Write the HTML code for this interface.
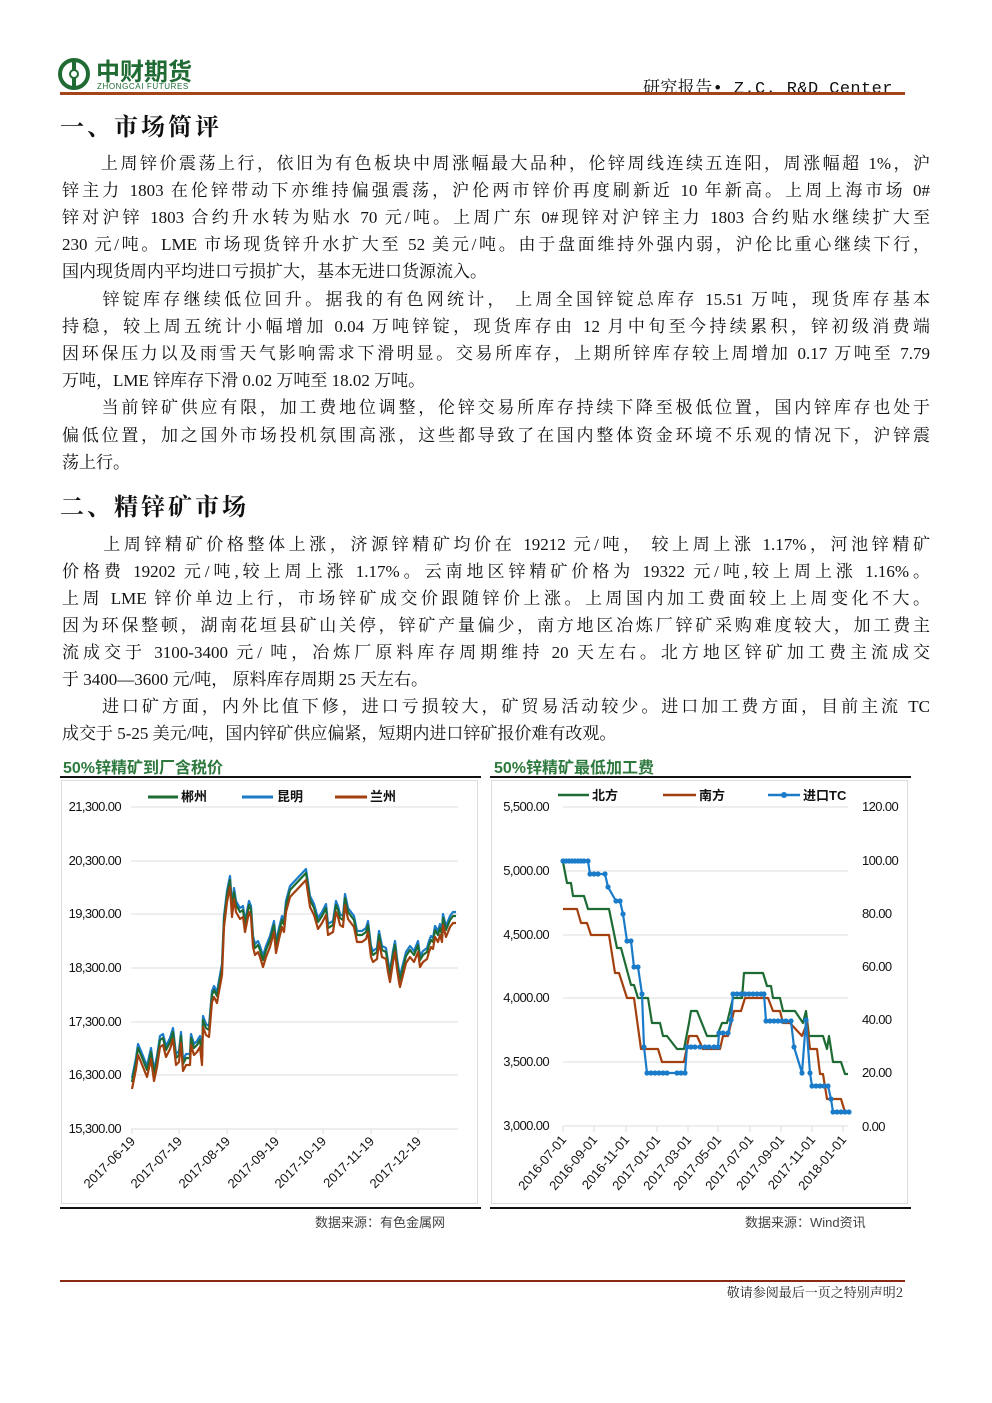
<!DOCTYPE html>
<html><head><meta charset="utf-8"><style>
body{margin:0;background:#fff;}
#p{position:relative;width:992px;height:1403px;font-family:"Liberation Serif","Noto Serif CJK SC",serif;color:#111;}
.a{position:absolute;white-space:nowrap;}
.l{position:absolute;left:62px;width:868px;font-size:17px;line-height:20px;text-align:justify;text-align-last:justify;white-space:nowrap;}
.l.e{text-align-last:left;}
.h{position:absolute;left:60px;font-size:24px;font-weight:bold;font-family:"Noto Serif CJK SC",serif;letter-spacing:3px;}
svg text{font-family:"Liberation Sans","Noto Sans CJK SC",sans-serif;}
</style></head><body><div id="p">
<svg class="a" style="left:58px;top:58px" width="36" height="34"><circle cx="16" cy="16" r="14" fill="none" stroke="#1f6b33" stroke-width="4"/><rect x="14" y="4" width="4" height="24" fill="#1f6b33"/><circle cx="16" cy="16" r="4" fill="#fff" stroke="#1f6b33" stroke-width="2"/></svg>
<div class="a" style="left:96px;top:56px;font-size:24px;font-weight:bold;color:#1f6b33;font-family:'Noto Sans CJK SC',sans-serif;line-height:28px">中财期货</div>
<div class="a" style="left:97px;top:82px;font-size:8px;color:#1f6b33;font-family:'Liberation Sans',sans-serif;letter-spacing:0.6px">ZHONGCAI FUTURES</div>
<div class="a" style="left:643px;top:73px;font-size:17px;letter-spacing:0.4px;font-family:'Liberation Mono','Noto Serif CJK SC',monospace">研究报告• Z.C.  R&amp;D Center</div>
<div class="a" style="left:60px;top:92px;width:845px;height:3px;background:#a4441a"></div>
<div class="h" style="top:107px">一、市场简评</div>
<div class="l" style="top:154px">　　上周锌价震荡上行，依旧为有色板块中周涨幅最大品种，伦锌周线连续五连阳，周涨幅超 1%，沪</div>
<div class="l" style="top:181px">锌主力 1803 在伦锌带动下亦维持偏强震荡，沪伦两市锌价再度刷新近 10 年新高。上周上海市场 0#</div>
<div class="l" style="top:208px">锌对沪锌 1803 合约升水转为贴水 70 元/吨。上周广东 0#现锌对沪锌主力 1803 合约贴水继续扩大至</div>
<div class="l" style="top:235px">230 元/吨。LME 市场现货锌升水扩大至 52 美元/吨。由于盘面维持外强内弱，沪伦比重心继续下行，</div>
<div class="l e" style="top:262px">国内现货周内平均进口亏损扩大，基本无进口货源流入。</div>
<div class="l" style="top:290px">　　锌锭库存继续低位回升。据我的有色网统计， 上周全国锌锭总库存 15.51 万吨，现货库存基本</div>
<div class="l" style="top:317px">持稳，较上周五统计小幅增加 0.04 万吨锌锭，现货库存由 12 月中旬至今持续累积，锌初级消费端</div>
<div class="l" style="top:344px">因环保压力以及雨雪天气影响需求下滑明显。交易所库存，上期所锌库存较上周增加 0.17 万吨至 7.79</div>
<div class="l e" style="top:371px">万吨，LME 锌库存下滑 0.02 万吨至 18.02 万吨。</div>
<div class="l" style="top:398px">　　当前锌矿供应有限，加工费地位调整，伦锌交易所库存持续下降至极低位置，国内锌库存也处于</div>
<div class="l" style="top:426px">偏低位置，加之国外市场投机氛围高涨，这些都导致了在国内整体资金环境不乐观的情况下，沪锌震</div>
<div class="l e" style="top:453px">荡上行。</div>
<div class="h" style="top:487px">二、精锌矿市场</div>
<div class="l" style="top:535px">　　上周锌精矿价格整体上涨，济源锌精矿均价在 19212 元/吨， 较上周上涨 1.17%，河池锌精矿</div>
<div class="l" style="top:562px">价格费 19202 元/吨,较上周上涨 1.17%。云南地区锌精矿价格为 19322 元/吨,较上周上涨 1.16%。</div>
<div class="l" style="top:589px">上周 LME 锌价单边上行，市场锌矿成交价跟随锌价上涨。上周国内加工费面较上上周变化不大。</div>
<div class="l" style="top:616px">因为环保整顿，湖南花垣县矿山关停，锌矿产量偏少，南方地区冶炼厂锌矿采购难度较大，加工费主</div>
<div class="l" style="top:643px">流成交于 3100-3400 元/ 吨，冶炼厂原料库存周期维持 20 天左右。北方地区锌矿加工费主流成交</div>
<div class="l e" style="top:670px">于 3400—3600 元/吨， 原料库存周期 25 天左右。</div>
<div class="l" style="top:697px">　　进口矿方面，内外比值下修，进口亏损较大，矿贸易活动较少。进口加工费方面，目前主流 TC</div>
<div class="l e" style="top:724px">成交于 5-25 美元/吨，国内锌矿供应偏紧，短期内进口锌矿报价难有改观。</div>

<svg class="a" style="left:0;top:0" width="992" height="1403">
<g font-size="16" fill="#2e7a3e" font-weight="bold"><text x="63" y="773">50%锌精矿到厂含税价</text><text x="494" y="773">50%锌精矿最低加工费</text></g>
<rect x="60" y="776" width="421" height="2" fill="#111"/><rect x="490" y="776" width="421" height="2" fill="#111"/>
<rect x="61.5" y="780.5" width="416" height="423" fill="none" stroke="#ddd"/><rect x="491.5" y="780.5" width="416" height="423" fill="none" stroke="#ddd"/>
<rect x="60" y="1207" width="421" height="2" fill="#111"/><rect x="490" y="1207" width="421" height="2" fill="#111"/>
<g font-size="13" fill="#444" font-family="Liberation Serif,Noto Serif CJK SC,serif"><text x="315" y="1227">数据来源：有色金属网</text><text x="745" y="1227">数据来源：Wind资讯</text></g>
<g stroke="#ddd" stroke-width="1"><line x1="131" x2="458" y1="807" y2="807"/><line x1="131" x2="458" y1="861" y2="861"/><line x1="131" x2="458" y1="914" y2="914"/><line x1="131" x2="458" y1="968" y2="968"/><line x1="131" x2="458" y1="1022" y2="1022"/><line x1="131" x2="458" y1="1075" y2="1075"/><line x1="131" x2="458" y1="1129" y2="1129"/>
<path d="M132 1129v5M179 1129v5M227 1129v5M276 1129v5M323 1129v5M371 1129v5M418 1129v5"/></g>
<g font-size="13" fill="#111" text-anchor="end" letter-spacing="-0.6"><text x="121" y="811">21,300.00</text><text x="121" y="865">20,300.00</text><text x="121" y="918">19,300.00</text><text x="121" y="972">18,300.00</text><text x="121" y="1026">17,300.00</text><text x="121" y="1079">16,300.00</text><text x="121" y="1133">15,300.00</text></g>
<g font-size="13" fill="#111" text-anchor="end"><text transform="translate(136,1142) rotate(-45)">2017-06-19</text><text transform="translate(183,1142) rotate(-45)">2017-07-19</text><text transform="translate(231,1142) rotate(-45)">2017-08-19</text><text transform="translate(280,1142) rotate(-45)">2017-09-19</text><text transform="translate(327,1142) rotate(-45)">2017-10-19</text><text transform="translate(375,1142) rotate(-45)">2017-11-19</text><text transform="translate(422,1142) rotate(-45)">2017-12-19</text></g>
<g font-size="13" font-weight="bold" fill="#111"><line x1="148" x2="178" y1="797" y2="797" stroke="#1e6b34" stroke-width="3"/><text x="181" y="801">郴州</text><line x1="242" x2="273" y1="797" y2="797" stroke="#1a7bc9" stroke-width="3"/><text x="277" y="801">昆明</text><line x1="335" x2="367" y1="797" y2="797" stroke="#a3400f" stroke-width="3"/><text x="370" y="801">兰州</text></g>
<g fill="none" stroke-width="2.2" stroke-linejoin="round">
<polyline transform="translate(0,-4)" stroke="#1a7bc9" points="132,1082 136,1062 138,1048 141,1055 145,1065 147,1070 151,1052 154,1074 157,1060 160,1040 163,1038 166,1050 170,1042 173,1032 176,1058 179,1055 181,1036 183,1064 186,1058 190,1058 191,1038 194,1048 197,1045 200,1040 202,1058 203,1020 206,1028 209,1030 212,995 214,990 217,996 218,990 222,968 224,920 227,895 230,880 232,910 234,892 236,905 240,912 243,910 245,925 249,905 251,910 253,940 255,948 258,945 260,950 263,960 266,950 270,940 274,925 276,946 279,932 282,920 284,925 286,905 290,890 306,873 310,900 314,908 318,922 322,916 326,908 328,928 333,925 336,905 338,910 340,918 343,920 345,898 348,912 354,920 356,930 357,935 362,935 366,932 368,925 371,950 373,955 377,952 379,935 382,950 386,952 388,965 390,975 393,955 395,945 397,962 399,975 400,980 403,968 406,956 410,950 414,955 418,945 420,960 423,955 427,952 429,945 431,940 433,942 435,930 438,935 440,928 442,935 443,918 446,930 448,925 450,920 453,916 456,916"/>
<polyline stroke="#1e6b34" points="132,1082 136,1062 138,1048 141,1055 145,1065 147,1070 151,1052 154,1074 157,1060 160,1040 163,1038 166,1050 170,1042 173,1032 176,1058 179,1055 181,1036 183,1064 186,1058 190,1058 191,1038 194,1048 197,1045 200,1040 202,1058 203,1020 206,1028 209,1030 212,995 214,990 217,996 218,990 222,968 224,920 227,895 230,880 232,910 234,892 236,905 240,912 243,910 245,925 249,905 251,910 253,940 255,948 258,945 260,950 263,960 266,950 270,940 274,925 276,946 279,932 282,920 284,925 286,905 290,890 306,873 310,900 314,908 318,922 322,916 326,908 328,928 333,925 336,905 338,910 340,918 343,920 345,898 348,912 354,920 356,930 357,935 362,935 366,932 368,925 371,950 373,955 377,952 379,935 382,950 386,952 388,965 390,975 393,955 395,945 397,962 399,975 400,980 403,968 406,956 410,950 414,955 418,945 420,960 423,955 427,952 429,945 431,940 433,942 435,930 438,935 440,928 442,935 443,918 446,930 448,925 450,920 453,916 456,916"/>
<polyline transform="translate(0,7)" stroke="#a3400f" points="132,1082 136,1062 138,1048 141,1055 145,1065 147,1070 151,1052 154,1074 157,1060 160,1040 163,1038 166,1050 170,1042 173,1032 176,1058 179,1055 181,1036 183,1064 186,1058 190,1058 191,1038 194,1048 197,1045 200,1040 202,1058 203,1020 206,1028 209,1030 212,995 214,990 217,996 218,990 222,968 224,920 227,895 230,880 232,910 234,892 236,905 240,912 243,910 245,925 249,905 251,910 253,940 255,948 258,945 260,950 263,960 266,950 270,940 274,925 276,946 279,932 282,920 284,925 286,905 290,890 306,873 310,900 314,908 318,922 322,916 326,908 328,928 333,925 336,905 338,910 340,918 343,920 345,898 348,912 354,920 356,930 357,935 362,935 366,932 368,925 371,950 373,955 377,952 379,935 382,950 386,952 388,965 390,975 393,955 395,945 397,962 399,975 400,980 403,968 406,956 410,950 414,955 418,945 420,960 423,955 427,952 429,945 431,940 433,942 435,930 438,935 440,928 442,935 443,918 446,930 448,925 450,920 453,916 456,916"/>
</g>
<g stroke="#ddd"><line x1="563" x2="848" y1="807" y2="807"/><line x1="563" x2="848" y1="871" y2="871"/><line x1="563" x2="848" y1="935" y2="935"/><line x1="563" x2="848" y1="998" y2="998"/><line x1="563" x2="848" y1="1062" y2="1062"/><line x1="563" x2="848" y1="1126" y2="1126"/>
<path d="M563 1126v6M594 1126v6M626 1126v6M657 1126v6M688 1126v6M718 1126v6M750 1126v6M781 1126v6M812 1126v6M843 1126v6"/></g>
<g font-size="13" fill="#111" text-anchor="end" letter-spacing="-0.6"><text x="549" y="811">5,500.00</text><text x="549" y="875">5,000.00</text><text x="549" y="939">4,500.00</text><text x="549" y="1002">4,000.00</text><text x="549" y="1066">3,500.00</text><text x="549" y="1130">3,000.00</text></g>
<g font-size="13" fill="#111" letter-spacing="-0.6"><text x="862" y="811">120.00</text><text x="862" y="865">100.00</text><text x="862" y="918">80.00</text><text x="862" y="971">60.00</text><text x="862" y="1024">40.00</text><text x="862" y="1077">20.00</text><text x="862" y="1131">0.00</text></g>
<g font-size="13" fill="#111" text-anchor="end"><text transform="translate(567,1140) rotate(-50)">2016-07-01</text><text transform="translate(598,1140) rotate(-50)">2016-09-01</text><text transform="translate(630,1140) rotate(-50)">2016-11-01</text><text transform="translate(661,1140) rotate(-50)">2017-01-01</text><text transform="translate(692,1140) rotate(-50)">2017-03-01</text><text transform="translate(722,1140) rotate(-50)">2017-05-01</text><text transform="translate(754,1140) rotate(-50)">2017-07-01</text><text transform="translate(785,1140) rotate(-50)">2017-09-01</text><text transform="translate(816,1140) rotate(-50)">2017-11-01</text><text transform="translate(847,1140) rotate(-50)">2018-01-01</text></g>
<g font-size="13" font-weight="bold" fill="#111"><line x1="558" x2="589" y1="795" y2="795" stroke="#1e6b34" stroke-width="2.5"/><text x="592" y="800">北方</text><line x1="663" x2="696" y1="795" y2="795" stroke="#a3400f" stroke-width="2.5"/><text x="699" y="800">南方</text><line x1="768" x2="800" y1="795" y2="795" stroke="#1a7bc9" stroke-width="2.5"/><circle cx="784" cy="795" r="3" fill="#1a7bc9"/><text x="803" y="800">进口TC</text></g>
<g fill="none" stroke-width="2.2" stroke-linejoin="round">
<polyline stroke="#1e6b34" points="563,862 567,883 571,883 573,896 584,896 588,909 609,909 617,948 621,948 631,985 634,985 638,998 648,998 652,1023 660,1023 663,1036 667,1036 677,1049 684,1049 689,1023 691,1011 697,1011 707,1036 717,1036 722,1023 727,1023 733,998 742,998 744,973 763,973 767,986 771,986 773,998 780,998 783,1011 795,1011 803,1023 806,1011 809,1036 823,1036 827,1049 829,1036 833,1062 841,1062 845,1074 848,1074"/>
<polyline stroke="#a3400f" points="563,909 577,909 581,923 587,923 591,935 609,935 615,973 619,973 627,998 634,998 641,1049 658,1049 662,1062 684,1062 689,1036 697,1036 703,1049 720,1049 723,1036 728,1036 734,1011 741,1011 745,998 768,998 773,1011 780,1011 783,1023 790,1023 802,1036 807,1023 810,1049 817,1049 820,1074 823,1074 827,1099 841,1099 845,1112"/>
<polyline stroke="#1a7bc9" points="563,861 588,861 590,874 605,874 608,887 616,901 620,901 623,914 627,941 631,941 634,967 638,967 642,994 644,1047 647,1073 685,1073 687,1047 718,1047 719,1033 728,1033 731,1020 733,994 764,994 766,1021 791,1021 794,1047 802,1073 806,1020 810,1073 812,1086 828,1086 831,1099 833,1112 849,1112"/>
</g>
<g fill="#1a7bc9">
<circle cx="563" cy="861" r="2.6"/><circle cx="566" cy="861" r="2.6"/><circle cx="569" cy="861" r="2.6"/><circle cx="572" cy="861" r="2.6"/><circle cx="575" cy="861" r="2.6"/><circle cx="578" cy="861" r="2.6"/><circle cx="581" cy="861" r="2.6"/><circle cx="584" cy="861" r="2.6"/><circle cx="588" cy="861" r="2.6"/><circle cx="590" cy="874" r="2.6"/><circle cx="594" cy="874" r="2.6"/><circle cx="598" cy="874" r="2.6"/><circle cx="605" cy="874" r="2.6"/><circle cx="608" cy="887" r="2.6"/><circle cx="616" cy="901" r="2.6"/><circle cx="620" cy="901" r="2.6"/><circle cx="623" cy="914" r="2.6"/><circle cx="627" cy="941" r="2.6"/><circle cx="631" cy="941" r="2.6"/><circle cx="634" cy="967" r="2.6"/><circle cx="638" cy="967" r="2.6"/><circle cx="642" cy="994" r="2.6"/><circle cx="644" cy="1047" r="2.6"/><circle cx="647" cy="1073" r="2.6"/><circle cx="651" cy="1073" r="2.6"/><circle cx="655" cy="1073" r="2.6"/><circle cx="659" cy="1073" r="2.6"/><circle cx="663" cy="1073" r="2.6"/><circle cx="667" cy="1073" r="2.6"/><circle cx="677" cy="1073" r="2.6"/><circle cx="681" cy="1073" r="2.6"/><circle cx="685" cy="1073" r="2.6"/><circle cx="687" cy="1047" r="2.6"/><circle cx="691" cy="1047" r="2.6"/><circle cx="695" cy="1047" r="2.6"/><circle cx="700" cy="1047" r="2.6"/><circle cx="705" cy="1047" r="2.6"/><circle cx="709" cy="1047" r="2.6"/><circle cx="714" cy="1047" r="2.6"/><circle cx="718" cy="1047" r="2.6"/><circle cx="719" cy="1033" r="2.6"/><circle cx="723" cy="1033" r="2.6"/><circle cx="728" cy="1033" r="2.6"/><circle cx="731" cy="1020" r="2.6"/><circle cx="733" cy="994" r="2.6"/><circle cx="737" cy="994" r="2.6"/><circle cx="741" cy="994" r="2.6"/><circle cx="745" cy="994" r="2.6"/><circle cx="749" cy="994" r="2.6"/><circle cx="753" cy="994" r="2.6"/><circle cx="757" cy="994" r="2.6"/><circle cx="761" cy="994" r="2.6"/><circle cx="764" cy="994" r="2.6"/><circle cx="766" cy="1021" r="2.6"/><circle cx="770" cy="1021" r="2.6"/><circle cx="774" cy="1021" r="2.6"/><circle cx="778" cy="1021" r="2.6"/><circle cx="782" cy="1021" r="2.6"/><circle cx="786" cy="1021" r="2.6"/><circle cx="791" cy="1021" r="2.6"/><circle cx="794" cy="1047" r="2.6"/><circle cx="802" cy="1073" r="2.6"/><circle cx="806" cy="1020" r="2.6"/><circle cx="810" cy="1073" r="2.6"/><circle cx="812" cy="1086" r="2.6"/><circle cx="816" cy="1086" r="2.6"/><circle cx="820" cy="1086" r="2.6"/><circle cx="824" cy="1086" r="2.6"/><circle cx="828" cy="1086" r="2.6"/><circle cx="831" cy="1099" r="2.6"/><circle cx="833" cy="1112" r="2.6"/><circle cx="837" cy="1112" r="2.6"/><circle cx="841" cy="1112" r="2.6"/><circle cx="845" cy="1112" r="2.6"/><circle cx="849" cy="1112" r="2.6"/>
</g>
<rect x="60" y="1280" width="845" height="2" fill="#8a2a10"/>
<text x="903" y="1297" text-anchor="end" font-size="13" fill="#222" style="font-family:'Noto Serif CJK SC',serif">敬请参阅最后一页之特别声明2</text>
</svg>
</div></body></html>
